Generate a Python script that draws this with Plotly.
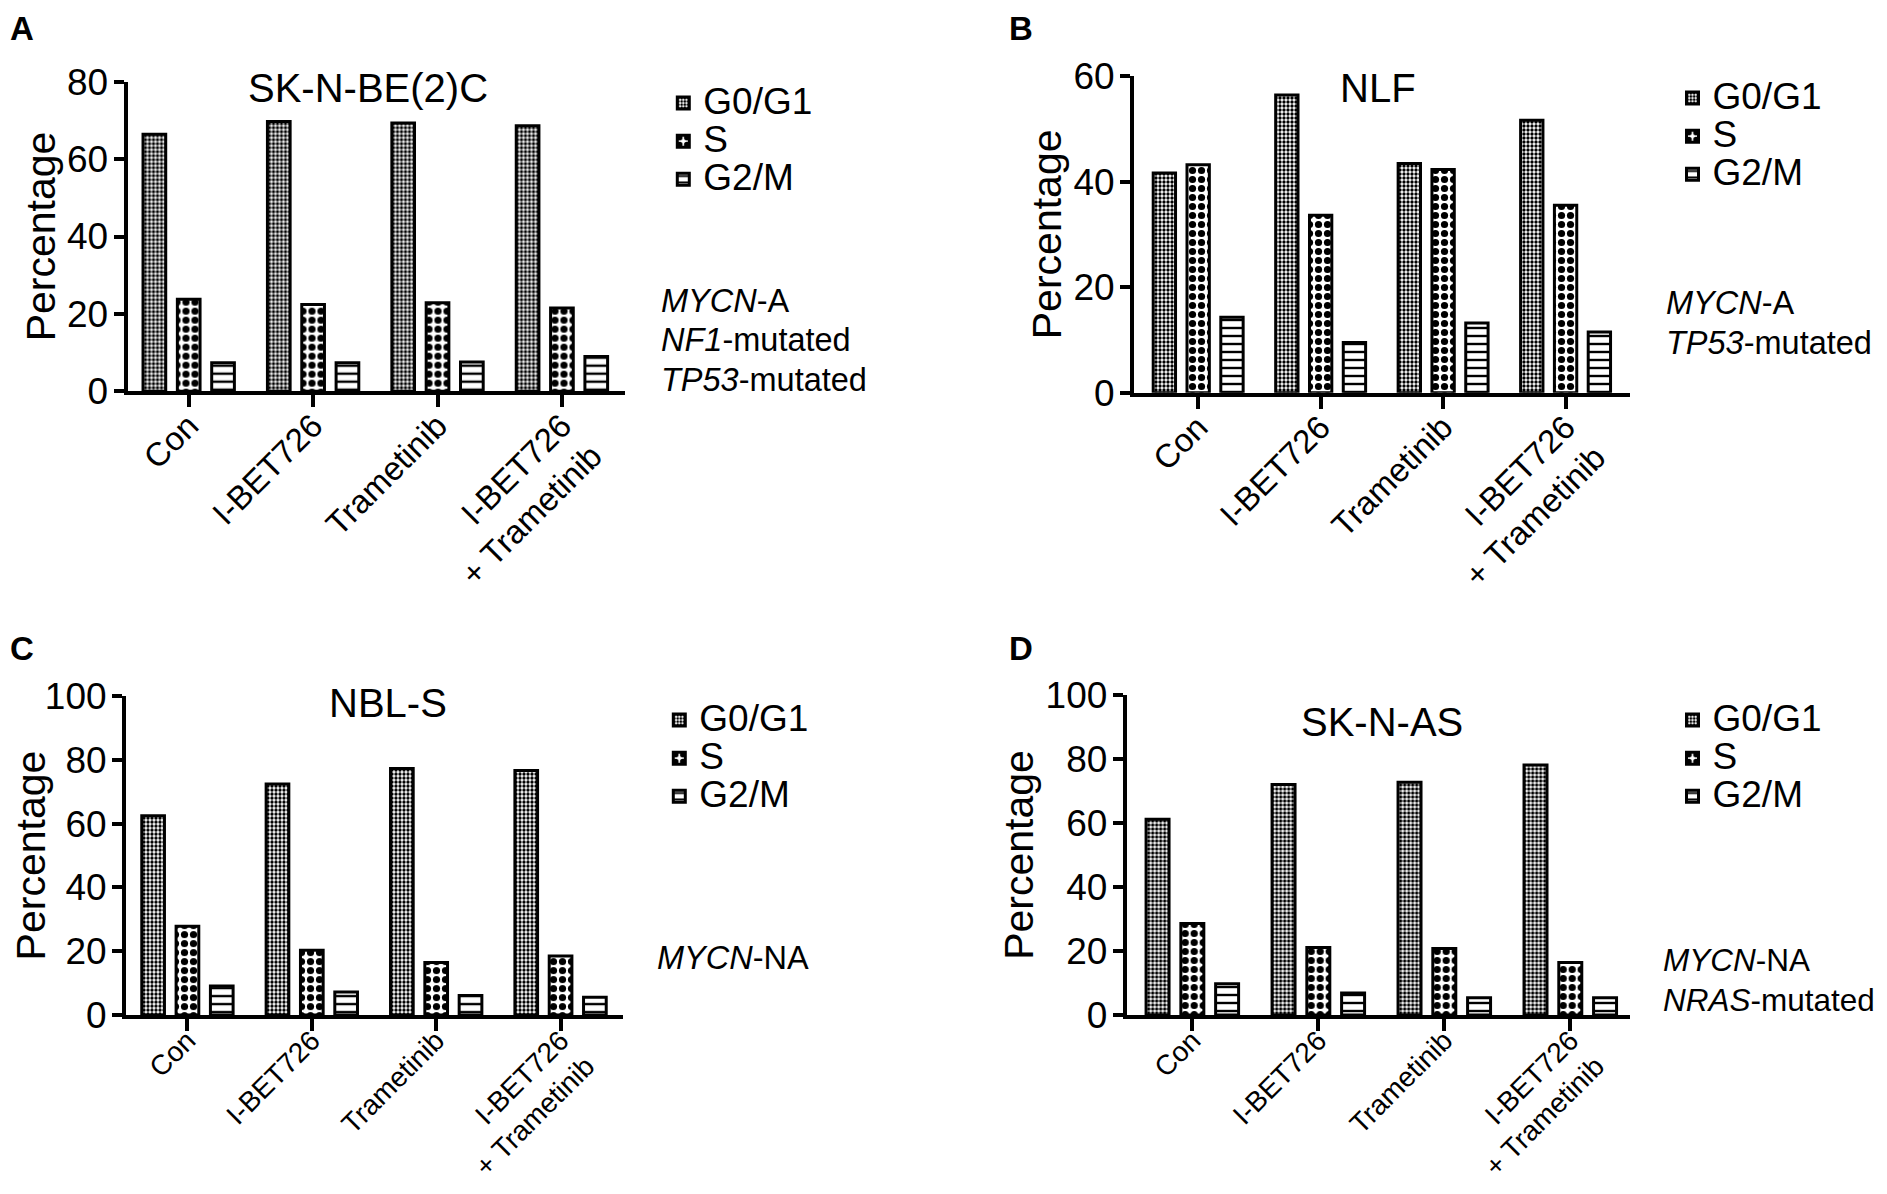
import plotly.graph_objects as go

# page body has an 8px margin; figure is placed at (8, 8)
OFF = 8
WF, HF = 1879, 1178

categories = ["Con", "I-BET726", "Trametinib", "I-BET726<br>+ Trametinib"]
phases = ["G0/G1", "S", "G2/M"]

# Panel A: SK-N-BE(2)C
skn_be2c_g0g1 = [66.4, 69.7, 69.3, 68.6]
skn_be2c_s = [23.8, 22.4, 22.9, 21.5]
skn_be2c_g2m = [7.4, 7.4, 7.6, 9.0]

# Panel B: NLF
nlf_g0g1 = [41.6, 56.4, 43.4, 51.6]
nlf_s = [43.2, 33.6, 42.3, 35.5]
nlf_g2m = [14.3, 9.5, 13.2, 11.5]

# Panel C: NBL-S
nbls_g0g1 = [62.5, 72.4, 77.3, 76.7]
nbls_s = [27.8, 20.3, 16.5, 18.5]
nbls_g2m = [9.1, 7.2, 6.1, 5.6]

# Panel D: SK-N-AS
sknas_g0g1 = [61.2, 72.0, 72.7, 78.1]
sknas_s = [28.6, 21.1, 20.8, 16.4]
sknas_g2m = [9.8, 6.9, 5.4, 5.4]

titles = ["SK-N-BE(2)C", "NLF", "NBL-S", "SK-N-AS"]
panel_letters = ["A", "B", "C", "D"]
y_max = [80, 60, 100, 100]
notes = [
    ["<i>MYCN</i>-A", "<i>NF1</i>-mutated", "<i>TP53</i>-mutated"],
    ["<i>MYCN</i>-A", "<i>TP53</i>-mutated"],
    ["<i>MYCN</i>-NA"],
    ["<i>MYCN</i>-NA", "<i>NRAS</i>-mutated"],
]
series = [
    [skn_be2c_g0g1, skn_be2c_s, skn_be2c_g2m],
    [nlf_g0g1, nlf_s, nlf_g2m],
    [nbls_g0g1, nbls_s, nbls_g2m],
    [sknas_g0g1, sknas_s, sknas_g2m],
]

FONT = "Liberation Sans, Arial, Helvetica, sans-serif"
BOLD_FONT = "Liberation Sans Narrow, Arial Narrow, Liberation Sans, Arial, sans-serif"

# geometry in reference-page pixels: (left, right, top, bottom), x range
boxes = [
    (127.5, 625, 81.7, 391.3),
    (1134, 1630, 76, 392.7),
    (126, 622.5, 696.1, 1015),
    (1126.7, 1630, 695, 1015),
]
x_ranges = [[-0.492, 3.507], [-0.524, 3.526], [-0.494, 3.498], [-0.521, 3.474]]
# category label size / offset per panel (bottom row kept inside the page)
xtick_size = [33, 33, 28, 28]
xtick_standoff = [-14, -14, -18, -18]
title_pos = [(368, 87.7), (1377.5, 87.7), (388.3, 702.5), (1382, 722.1)]
legend_text = [(703.3, 104), (1712.5, 99), (699.3, 721), (1712.5, 721)]
note_pos = [
    (658.5, [301.4, 339.5, 379.8], 32.5),
    (1663.7, [303, 343], 32.5),
    (654.8, [958], 32.5),
    (1661, [960, 1000], 31.5),
]

patterns = [
    dict(shape=".", size=4, solidity=0.55, fgcolor="black", bgcolor="white"),
    dict(shape=".", size=9, solidity=0.5, fgcolor="black", bgcolor="white"),
    dict(shape="-", size=8, solidity=0.3, fgcolor="black", bgcolor="white"),
]

LEG_ROW_FONT = 27     # sets legend row spacing
LEG_TEXT_FONT = 37    # displayed legend text size


def px(x):
    return (x - OFF) / WF


def py(y):
    return 1 - (y - OFF) / HF


# panel letters: (x, xanchor, y, yanchor) in paper units
letter_place = [
    (0.0, "left", 1.0, "top"),
    (px(1020.5), "center", 1.0, "top"),
    (0.0, "left", py(648), "middle"),
    (px(1020.5), "center", py(648), "middle"),
]

fig = go.Figure()
layout = dict(
    width=WF, height=HF,
    margin=dict(l=0, r=0, t=0, b=0),
    paper_bgcolor="white", plot_bgcolor="white",
    template="none",
    barmode="group", bargap=0.172, bargroupgap=0.339,
    font=dict(family=FONT, color="black"),
    annotations=[],
)

for i in range(4):
    sfx = "" if i == 0 else str(i + 1)
    xa, ya = "x" + sfx, "y" + sfx
    leg = "legend" + sfx
    for j, ph in enumerate(phases):
        fig.add_trace(go.Bar(
            x=categories, y=series[i][j],
            name='<span style="font-size:%dpx">%s</span>' % (LEG_TEXT_FONT, ph),
            xaxis=xa, yaxis=ya, legend=leg,
            marker=dict(color="white", line=dict(color="black", width=3),
                        pattern=patterns[j]),
        ))
    l, r, t, b = boxes[i]
    layout["xaxis" + sfx] = dict(
        domain=[px(l), px(r)], anchor=ya, range=x_ranges[i],
        showline=True, linewidth=4, linecolor="black",
        ticks="outside", ticklen=12, tickwidth=3.5, tickcolor="black",
        tickangle=-45, tickfont=dict(size=xtick_size[i], family=FONT),
        ticklabelstandoff=xtick_standoff[i],
        showgrid=False, zeroline=False, automargin=False,
    )
    layout["yaxis" + sfx] = dict(
        domain=[py(b), py(t)], anchor=xa, range=[0, y_max[i]], dtick=20,
        showline=True, linewidth=4, linecolor="black",
        ticks="outside", ticklen=10, tickwidth=3.5, tickcolor="black",
        tickfont=dict(size=37, family=FONT), ticklabelstandoff=-2,
        showgrid=False, zeroline=False, automargin=False,
        title=dict(text="Percentage", font=dict(size=41, family=FONT), standoff=0),
    )
    tx0, ty0 = legend_text[i]
    layout[leg] = dict(
        x=px(tx0 - 40), y=py(ty0 - 25), xanchor="left", yanchor="top",
        font=dict(size=LEG_ROW_FONT, family=FONT), bgcolor="rgba(0,0,0,0)",
        tracegroupgap=0, itemclick=False,
    )
    tx, ty = title_pos[i]
    layout["annotations"].append(dict(
        text=titles[i], x=px(tx), y=py(ty), xref="paper", yref="paper",
        xanchor="center", yanchor="middle", showarrow=False,
        font=dict(size=40, family=FONT),
    ))
    lxp, lxa, lyp, lya = letter_place[i]
    layout["annotations"].append(dict(
        text="<b>" + panel_letters[i] + "</b>", x=lxp, y=lyp,
        xref="paper", yref="paper", xanchor=lxa, yanchor=lya,
        showarrow=False, font=dict(size=33, family=BOLD_FONT),
    ))
    nx, nys, nsize = note_pos[i]
    for txt, ny in zip(notes[i], nys):
        layout["annotations"].append(dict(
            text=txt, x=px(nx), y=py(ny), xref="paper", yref="paper",
            xanchor="left", yanchor="middle", showarrow=False,
            font=dict(size=nsize, family=FONT),
        ))

fig.update_layout(**layout)
fig.write_html("out.html")
